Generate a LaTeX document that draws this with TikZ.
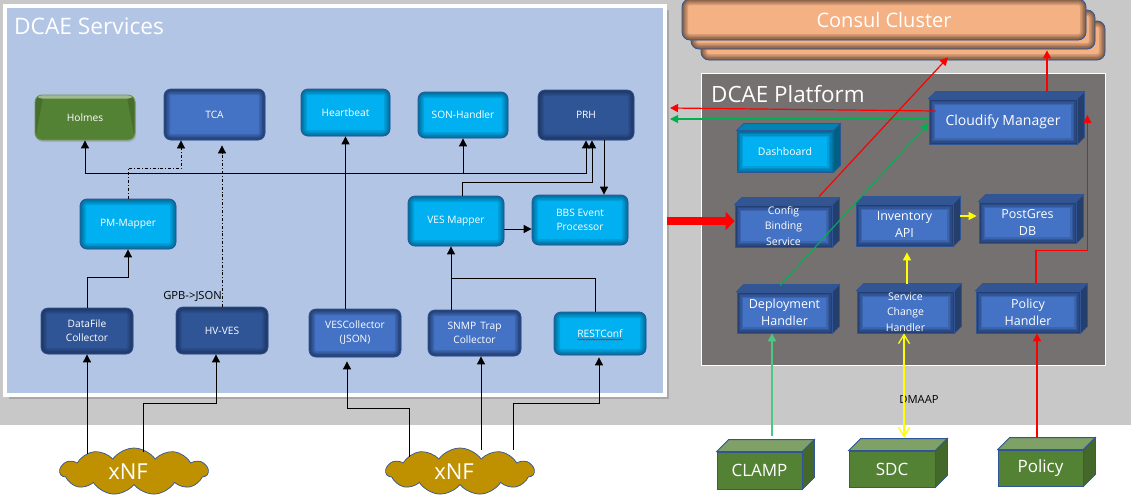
\documentclass[tikz,border=0pt]{standalone}
\usepackage{fontspec}
\setmainfont{Open Sans}
\usetikzlibrary{arrows.meta, shapes.symbols, shadows, decorations.pathmorphing}
\definecolor{dcgray}{HTML}{C8C8C8}
\definecolor{dcpanel}{HTML}{B2C5E4}
\definecolor{dcstone}{HTML}{767171}
\definecolor{dcpeach}{HTML}{F4B183}
\definecolor{dcedge}{HTML}{2F5597}
\definecolor{dccyan}{HTML}{00B0F0}
\definecolor{dcteal}{HTML}{005F88}
\definecolor{dcblue}{HTML}{4472C4}
\definecolor{dcnavy}{HTML}{2F5597}
\definecolor{dcdeep}{HTML}{1B2F58}
\definecolor{dcgreen}{HTML}{548235}
\definecolor{dcred}{HTML}{FF0000}
\definecolor{dclime}{HTML}{00B050}
\definecolor{dcyellow}{HTML}{FFFF00}
\definecolor{dcgold}{HTML}{BF9000}
\tikzset{
  inglow/.style 2 args={path picture={
    \foreach \w/\o in {12/.2,9/.25,6/.3,3/.4}
      \draw[#1, line width=\w pt, opacity=\o, rounded corners=#2]
        (path picture bounding box.north west) rectangle (path picture bounding box.south east);}}
}
\begin{document}
\begin{tikzpicture}[x=1pt, y=-1pt, inner sep=0pt, text=white, align=center,
    font=\fontsize{10.2}{14}\selectfont,
    tile/.style 2 args={fill=#1, draw=dcedge, line width=0.8pt, rounded corners=7pt, inglow={#2}{7pt}},
    cube/.style={fill=dcblue, draw=dcedge, line width=0.8pt, inglow={dcdeep}{0pt},
                 font=\fontsize{12.5}{17}\selectfont},
    solid3d/.style={fill=dcgreen, draw=dcedge, line width=0.8pt, font=\fontsize{17}{20}\selectfont},
    stack/.style={fill=dcpeach, draw=dcedge, line width=0.8pt, rounded corners=8pt,
                  minimum width=404pt, minimum height=39pt, inglow={black!60!dcpeach}{8pt}},
    nf/.style={cloud, cloud puffs=11, cloud puff arc=110, aspect=3.2, fill=dcgold, draw=dcedge,
               line width=0.7pt, minimum width=148pt, minimum height=47pt,
               font=\fontsize{22}{24}\selectfont},
    flow/.style={black, line width=0.9pt, -{Triangle[length=8pt, width=8pt]}},
    plain/.style={black, line width=0.9pt},
    dashflow/.style={black, line width=0.8pt, dash dot, -{Triangle[length=8pt, width=8pt]}},
    redflow/.style={dcred, line width=1.2pt, -{Triangle[length=8pt, width=8pt]}},
    limeflow/.style={dclime, line width=1.1pt, -{Triangle[length=8pt, width=8pt]}},
    yelflow/.style={dcyellow, line width=1.3pt, -{Triangle[length=8pt, width=8pt]}}]
  \useasboundingbox (0,0) rectangle (1131,501);
  \fill[dcgray] (0,0) rectangle (1131,425);

  % panels
  \node[fill=dcpanel, draw=white, line width=4pt, minimum width=660pt, minimum height=389pt,
        drop shadow={shadow xshift=4pt, shadow yshift=-4pt, opacity=.45}] (svc) at (335,200.5) {};
  \node[anchor=west, font=\fontsize{22.7}{26}\selectfont] (svctitle) at (14,26) {DCAE Services};
  \node[fill=dcstone, draw=white, line width=1pt, minimum width=404pt, minimum height=292pt] (plat) at (903,219) {};
  \node[anchor=west, font=\fontsize{22.4}{26}\selectfont] (plattitle) at (711,94) {DCAE Platform};
  \node[stack] (consulc) at (903,40.5) {};
  \node[stack] (consulb) at (893,29.5) {};
  \node[stack, minimum height=41pt, font=\fontsize{20}{22}\selectfont] (consula) at (884,19.5) {Consul Cluster};

  % services
  \node[fill=dcgreen, draw=dcgreen!85!white, line width=0.8pt, rounded corners=7pt,
        minimum width=100pt, minimum height=45pt,
        drop shadow={shadow xshift=1pt, shadow yshift=-2pt, opacity=.3},
        path picture={
          \fill[dcgreen!85!black] (path picture bounding box.north west) -- ++(14,-15) -- ++(0,-15) -- (path picture bounding box.south west) -- cycle;
          \fill[dcgreen!85!black] (path picture bounding box.north east) -- ++(-14,-15) -- ++(0,-15) -- (path picture bounding box.south east) -- cycle;
          \fill[dcgreen!55!white] (path picture bounding box.north west) rectangle ([yshift=-3.5pt]path picture bounding box.north east);
        }] (holmes) at (85,117.5) {Holmes};
  \node[tile={dcblue}{dcdeep}, minimum width=101pt, minimum height=51pt] (tca) at (214.5,114.5) {TCA};
  \node[tile={dccyan}{dcteal}, minimum width=89pt, minimum height=47pt] (hb) at (345.5,112.5) {Heartbeat};
  \node[tile={dccyan}{dcteal}, minimum width=90pt, minimum height=46pt] (son) at (463,115) {SON-Handler};
  \node[tile={dcnavy}{dcdeep}, minimum width=96pt, minimum height=50pt] (prh) at (586,115) {PRH};
  \node[tile={dccyan}{dcteal}, minimum width=96pt, minimum height=50pt] (pm) at (128,224) {PM-Mapper};
  \node[tile={dccyan}{dcteal}, minimum width=96pt, minimum height=50pt] (vm) at (456,221) {VES Mapper};
  \node[tile={dccyan}{dcteal}, minimum width=96pt, minimum height=50pt] (bbs) at (580,220) {BBS Event\\Processor};
  \node[tile={dcnavy}{dcdeep}, minimum width=92pt, minimum height=46pt] (df) at (87,331) {DataFile\\Collector};
  \node[tile={dcnavy}{dcdeep}, minimum width=92pt, minimum height=47pt] (hv) at (222,330.5) {HV-VES};
  \node[tile={dcblue}{dcdeep}, minimum width=92pt, minimum height=48pt] (vc) at (355,333) {VESCollector\\(JSON)};
  \node[tile={dcblue}{dcdeep}, minimum width=93pt, minimum height=46pt] (snmp) at (474.5,333) {SNMP\, Trap\\Collector};
  \node[tile={dccyan}{dcteal}, minimum width=92pt, minimum height=43pt] (rest) at (600,333.5) {RESTConf};
  \draw[dcred, line width=0.5pt, decorate, decoration={snake, amplitude=0.6pt, segment length=2.5pt}]
    ([xshift=-23pt, yshift=-6pt]rest.center) -- ([xshift=23pt, yshift=-6pt]rest.center);
  \node[text=black, anchor=east, font=\fontsize{11.2}{13}\selectfont] (gpb) at (222,296) {GPB->JSON};

  % platform
  \node[cube, minimum width=148pt, minimum height=45pt, font=\fontsize{14}{17}\selectfont] (cm) at (1003,121.5) {Cloudify Manager};
  \node[cube, fill=dccyan, inglow={dcteal}{0pt}, minimum width=96pt, minimum height=41pt, font=\fontsize{10.5}{14}\selectfont] (dash) at (785,151.5) {Dashboard};
  \node[cube, minimum width=97pt, minimum height=42pt, font=\fontsize{10.5}{15.5}\selectfont] (cbs) at (783.5,226) {Config\\Binding\\Service};
  \node[cube, minimum width=97pt, minimum height=42pt] (inv) at (904.5,225) {Inventory\\API};
  \node[cube, minimum width=97pt, minimum height=41pt] (pg) at (1027.5,222.5) {PostGres\\DB};
  \node[cube, minimum width=95pt, minimum height=41pt] (dep) at (784.5,312.5) {Deployment\\Handler};
  \node[cube, minimum width=97pt, minimum height=42pt, font=\fontsize{10.5}{15.5}\selectfont] (sch) at (905.5,312) {Service\\Change\\Handler};
  \node[cube, minimum width=104pt, minimum height=42pt] (ph) at (1028,312) {Policy\\Handler};
  \foreach \n/\d/\c in {cm/7/dcblue, dash/7/dccyan, cbs/7/dcblue, inv/7/dcblue, pg/7/dcblue,
                        dep/7/dcblue, sch/7/dcblue, ph/7/dcblue} {
    \draw[dcedge, line width=0.8pt, fill=\c!75!black] (\n.north west) -- ++(\d,-\d)
      -- ([shift={(\d,-\d)}]\n.north east) -- (\n.north east) -- cycle;
    \draw[dcedge, line width=0.8pt, fill=\c!55!black] (\n.north east) -- ([shift={(\d,-\d)}]\n.north east)
      -- ([shift={(\d,-\d)}]\n.south east) -- (\n.south east) -- cycle;
  }

  % outside
  \node[solid3d, minimum width=85pt, minimum height=37pt] (clamp) at (759.5,470.5) {CLAMP};
  \node[solid3d, minimum width=86pt, minimum height=36pt] (sdc) at (892,469) {SDC};
  \node[solid3d, minimum width=85pt, minimum height=36pt] (pol) at (1040.5,468) {Policy};
  \foreach \n/\d in {clamp/12, sdc/12, pol/12} {
    \draw[dcedge, line width=0.8pt, fill=dcgreen!75!white] (\n.north west) -- ++(\d,-\d)
      -- ([shift={(\d,-\d)}]\n.north east) -- (\n.north east) -- cycle;
    \draw[dcedge, line width=0.8pt, fill=dcgreen!80!black] (\n.north east) -- ([shift={(\d,-\d)}]\n.north east)
      -- ([shift={(\d,-\d)}]\n.south east) -- (\n.south east) -- cycle;
  }
  \node[nf] (xnfa) at (134,471.5) {xNF\hspace{12pt}};
  \node[nf] (xnfb) at (460,471.5) {xNF\hspace{12pt}};
  \node[text=black, font=\fontsize{11.2}{13}\selectfont] (dmaap) at (919,399) {DMAAP};

  % service connectors
  \coordinate (bus) at (463,173);
  \coordinate (join) at (451,278);
  \draw[flow] (bus) -| (holmes.south);
  \draw[flow] (bus) -| (prh.south);
  \draw[flow] (bus) -- (son.south);
  \draw[flow] (hb.south |- vc.north) -- (hb.south);
  \draw[dashflow] (pm.north) -- ++(0,-30) -| ([xshift=-33.5pt]tca.south);
  \draw[dashflow, shorten >=5pt] (hv.north) -- (hv.north |- tca.south);
  \draw[flow] (df.north) -- ++(0,-30) -| (pm.south);
  \draw[flow] ([xshift=6pt]vm.north) -- ++(0,-13) -| ([xshift=6pt]prh.south);
  \draw[flow] ([xshift=18pt]prh.south) -- ([xshift=24pt]bbs.north);
  \draw[flow] ([yshift=-8pt]vm.east) -- ([yshift=-9pt]bbs.west);
  \draw[flow] ([xshift=-23.5pt]snmp.north) -- ([xshift=-5pt]vm.south);
  \draw[plain] ([xshift=-5pt]rest.north) |- (join);

  % xNF connectors
  \draw[flow] ([xshift=-47pt, yshift=18pt]xnfa.center) -- (df.south);
  \draw[flow] ([xshift=9pt, yshift=20pt]xnfa.center) -- ++(0,-48) -| ([xshift=-6pt]hv.south);
  \draw[flow, shorten >=4pt] ([xshift=-51pt, yshift=15pt]xnfb.center) -- ++(0,-48) -| ([xshift=-8pt]vc.south);
  \draw[flow] ([xshift=21pt, yshift=22pt]xnfb.center) -- ([xshift=6.5pt]snmp.south);
  \draw[flow, shorten >=2pt] ([xshift=53pt, yshift=22pt]xnfb.center) -- ++(0,-46) -| ([xshift=-1pt]rest.south);

  % platform connectors
  \draw[dcred, line width=8pt, -{Triangle[length=9pt, width=18pt]}] ([yshift=-20.5pt]svc.east) -- ([yshift=5pt]cbs.west);
  \draw[redflow] ([xshift=7pt, yshift=10.5pt]cm.west) -- ([xshift=3pt, yshift=92.5pt]svc.east);
  \draw[limeflow] ([yshift=2.5pt]cm.west) -- ([xshift=3pt, yshift=81.5pt]svc.east);
  \draw[redflow] ([xshift=35.5pt, yshift=8pt]cbs.north) -- ([xshift=45pt, yshift=3pt]consulc.south);
  \draw[redflow] ([xshift=44pt, yshift=7pt]cm.north) -- ([xshift=154pt, yshift=-1pt]consulb.south);
  \draw[limeflow] ([xshift=-4.5pt, yshift=6pt]dep.north) -- ([yshift=-1.5pt]cm.west);
  \draw[redflow] ([xshift=8pt, yshift=8pt]ph.north) -- ++(0,-32) -| ([xshift=10pt, yshift=6.5pt]cm.east);
  \draw[yelflow] ([xshift=7pt, yshift=9pt]inv.east) -- ([xshift=-2pt, yshift=6.5pt]pg.west);
  \draw[yelflow] ([xshift=1.5pt, yshift=7pt]sch.north) -- ([xshift=2.5pt, yshift=-6pt]inv.south);
  \draw[dcyellow, line width=1.3pt, {Straight Barb[length=9pt, width=11pt]}-{Straight Barb[length=9pt, width=11pt]}]
    ([xshift=-1.5pt]sch.south) -- ([xshift=12pt, yshift=13pt]sdc.north);
  \draw[limeflow, line width=1.3pt, draw=dclime!70!white] ([xshift=12.5pt, yshift=16pt]clamp.north) -- ([xshift=-12.5pt]dep.south);
  \draw[redflow] ([xshift=-3.5pt, yshift=12pt]pol.north) -- ([xshift=9pt]ph.south);
\end{tikzpicture}
\end{document}
